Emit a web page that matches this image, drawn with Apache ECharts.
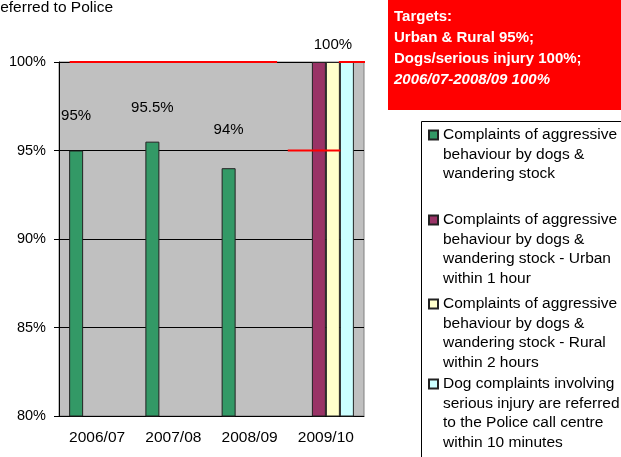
<!DOCTYPE html>
<html>
<head>
<meta charset="utf-8">
<script src="https://cdn.jsdelivr.net/npm/echarts@6/dist/echarts.min.js"></script>
<style>
  html, body { margin: 0; padding: 0; background: #fff; }
  #main { width: 621px; height: 457px; }
</style>
</head>
<body>
<div id="main"></div>
<script>
// categories and series values
const categories = ['2006/07', '2007/08', '2008/09', '2009/10']
const seriesNames = [
  'Complaints of aggressive behaviour by dogs & wandering stock',
  'Complaints of aggressive behaviour by dogs & wandering stock - Urban within 1 hour',
  'Complaints of aggressive behaviour by dogs & wandering stock - Rural within 2 hours',
  'Dog complaints involving serious injury are referred to the Police call centre within 10 minutes'
]
const legendLines = [
  ['Complaints of aggressive', 'behaviour by dogs &', 'wandering stock'],
  ['Complaints of aggressive', 'behaviour by dogs &', 'wandering stock - Urban', 'within 1 hour'],
  ['Complaints of aggressive', 'behaviour by dogs &', 'wandering stock - Rural', 'within 2 hours'],
  ['Dog complaints involving', 'serious injury are referred', 'to the Police call centre', 'within 10 minutes']
]
const aggressive = [0.95, 0.955, 0.94, null]
const urban = [null, null, null, 1.0]
const rural = [null, null, null, 1.0]
const injury = [null, null, null, 1.0]
// target lines, x in category units (0 = left edge, 4 = right edge)
const targetAll = [[0.14, 1.0], [2.86, 1.0]]
const targetUrbanRural = [[3.0, 0.95], [3.69, 0.95]]
const targetInjury = [[3.67, 1.0], [4.31, 1.0]]
const targetNotes = ['Targets:', 'Urban & Rural 95%;', 'Dogs/serious injury 100%;', '2006/07-2008/09 100%']

const FONT = 'Liberation Sans, Arial, sans-serif'
const colors = ['#339966', '#993366', '#FFFFCC', '#CCFFFF']
const pct = v => (Math.round(v * 1000) / 10) + '%'

const LH = 19.5
const iconCenters = [135, 220, 304, 384]
const greenLabelGap = [27, 26, 31]

// each legend item is its own legend so the icon sits on the first text line:
// empty leading lines keep the block centred on the icon
const legends = legendLines.map((lines, i) => {
  const n = lines.length
  return {
    left: 428,
    top: iconCenters[i] - (2 * n - 1) * LH / 2,
    padding: 0,
    orient: 'vertical',
    icon: 'rect',
    itemWidth: 9,
    itemHeight: 9,
    selectedMode: false,
    data: [seriesNames[i]],
    formatter: () => ' \n'.repeat(n - 1) + lines.join('\n'),
    textStyle: { fontFamily: FONT, fontSize: 15.5, color: '#000', lineHeight: LH }
  }
})

const barSeries = [aggressive, urban, rural, injury].map((vals, i) => ({
  name: seriesNames[i],
  type: 'bar',
  barWidth: 14,
  barGap: '0%',
  itemStyle: { color: colors[i], borderColor: '#222', borderWidth: 1 },
  data: vals.map((v, k) => {
    if (v == null) return null
    let dist = i === 0 ? greenLabelGap[k] : 10
    return { value: v, label: { show: i < 1 || i === 2, distance: dist } }
  }),
  label: {
    position: 'top', color: '#000', fontFamily: FONT, fontSize: 15,
    formatter: p => pct(p.value)
  }
}))

const lineSeries = [targetAll, targetUrbanRural, targetInjury].map(pts => ({
  type: 'line',
  xAxisIndex: 1,
  symbol: 'none',
  clip: false,
  silent: true,
  lineStyle: { color: '#FF0000', width: 2 },
  z: 5,
  data: pts
}))

const option = {
  animation: false,
  color: colors,
  grid: {
    left: 59, right: 257, top: 62, bottom: 41,
    show: true, backgroundColor: '#C0C0C0', borderColor: '#808080', borderWidth: 1
  },
  legend: legends,
  xAxis: [{
    type: 'category',
    data: categories,
    axisLine: { lineStyle: { color: '#000' } },
    axisTick: { length: 5, lineStyle: { color: '#000' } },
    axisLabel: { color: '#000', fontFamily: FONT, fontSize: 15.5, margin: 14 }
  }, {
    type: 'value', min: 0, max: 4, show: false
  }],
  yAxis: {
    type: 'value', min: 0.8, max: 1.0, interval: 0.05,
    axisLine: { show: true, lineStyle: { color: '#000' } },
    axisTick: { show: true, length: 5, lineStyle: { color: '#000' } },
    splitLine: { lineStyle: { color: '#000', width: 1 } },
    axisLabel: { color: '#000', fontFamily: FONT, fontSize: 14.5, margin: 13, formatter: v => pct(v) }
  },
  series: barSeries.concat(lineSeries),
  graphic: [
    {
      type: 'text', left: -11, top: 0,
      style: { text: 'Referred to Police', font: '15.5px ' + FONT, fill: '#000' }
    },
    {
      type: 'rect', shape: { x: 388, y: -2, width: 240, height: 112 },
      style: { fill: '#FF0000' }, z: 10
    },
    ...targetNotes.map((t, i) => ({
      type: 'text', x: 394, y: 9 + i * 21, z: 11,
      style: {
        text: t, fill: '#fff',
        font: (i === 3 ? 'italic bold ' : 'bold ') + '15px ' + FONT
      }
    })),
    {
      type: 'rect', shape: { x: 421.5, y: 121.5, width: 220, height: 360 },
      style: { fill: 'none', stroke: '#000', lineWidth: 1 }
    }
  ]
}

let myChart = echarts.init(document.getElementById('main'))
myChart.setOption(option)
</script>
</body>
</html>
